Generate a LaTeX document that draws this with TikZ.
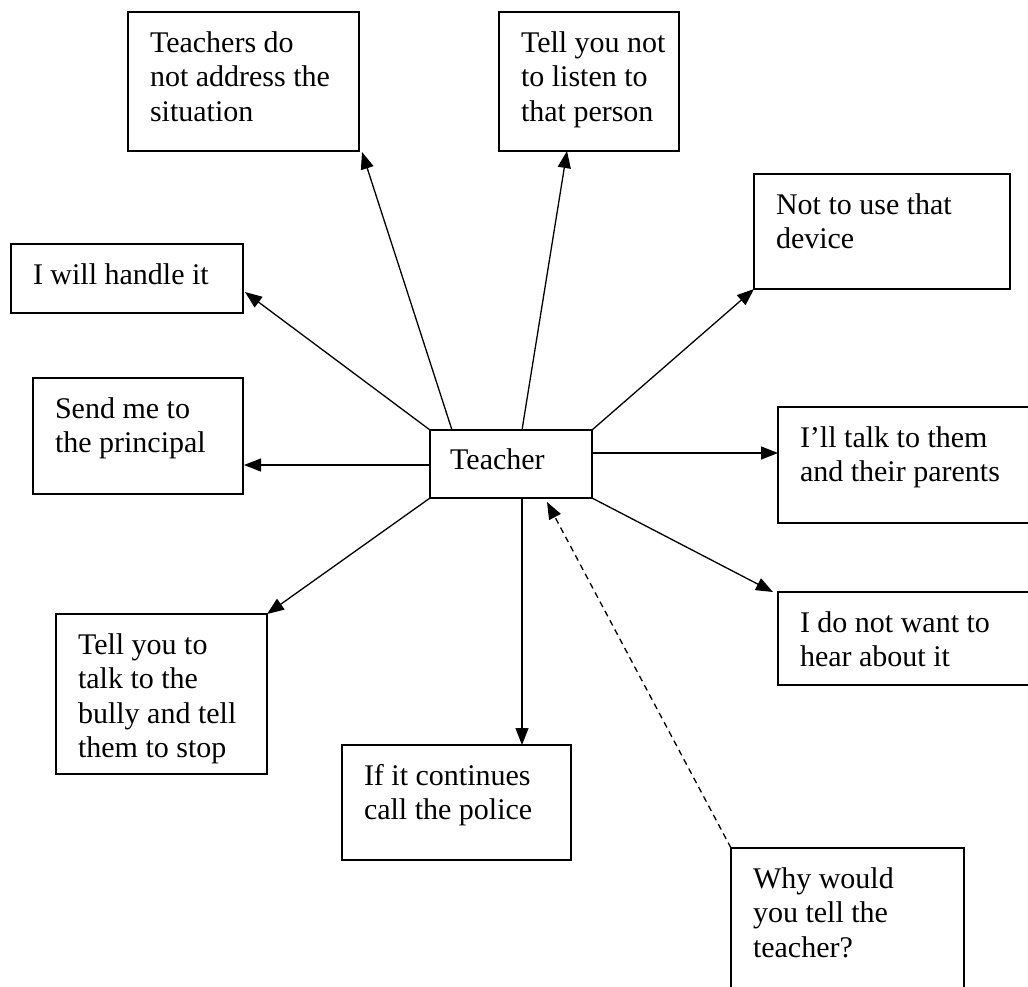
\documentclass[tikz,border=0pt]{standalone}
\usepackage{fontspec}
\setmainfont{Liberation Serif}
\usetikzlibrary{arrows.meta,calc}
\begin{document}
\begin{tikzpicture}[x=1pt,y=-1pt,
  box/.style={draw, line width=1.5pt, anchor=north west, inner sep=0pt, outer sep=0pt},
  lbl/.style={anchor=north west, inner sep=0pt, outer sep=0pt, align=left,
    font=\fontsize{30}{34.5}\selectfont, shift={(22pt,-15.85pt)}},
  arr/.style={line width=1.3pt, -{Triangle[length=17pt,width=13pt]}},
  darr/.style={arr, dash pattern=on 6pt off 4.5pt}]
\useasboundingbox (0,0) rectangle (1028,986);
\fill[white] (0,0) rectangle (1028,986);
\clip (0,0) rectangle (1028,986);

% centre
\node[box, minimum width=162pt, minimum height=68pt] (t) at (430,430) {};
\node[anchor=base west, inner sep=0pt, font=\fontsize{30}{34.5}\selectfont] (tT) at (450,469) {Teacher};

% boxes
\node[box, minimum width=231pt, minimum height=139pt] (a) at (128,12) {};
\node[lbl] (aT) at (a.north west) {\strut Teachers do\\not address the\\situation};

\node[box, minimum width=180pt, minimum height=139pt] (b) at (499,12) {};
\node[lbl] (bT) at (b.north west) {\strut Tell you not\\to listen to\\that person};

\node[box, minimum width=232pt, minimum height=69pt] (c) at (11,244) {};
\node[lbl] (cT) at (c.north west) {\strut I will handle it};

\node[box, minimum width=256pt, minimum height=115pt] (d) at (754,174) {};
\node[lbl] (dT) at (d.north west) {\strut Not to use that\\device};

\node[box, minimum width=210pt, minimum height=116pt] (e) at (33,378) {};
\node[lbl] (eT) at (e.north west) {\strut Send me to\\the principal};

\node[box, minimum width=270pt, minimum height=116pt] (f) at (778,407) {};
\node[lbl] (fT) at (f.north west) {\strut I’ll talk to them\\and their parents};

\node[box, minimum width=270pt, minimum height=93pt] (g) at (778,592) {};
\node[lbl] (gT) at (g.north west) {\strut I do not want to\\hear about it};

\node[box, minimum width=211pt, minimum height=160pt] (h) at (56,614) {};
\node[lbl] (hT) at (h.north west) {\strut Tell you to\\talk to the\\bully and tell\\them to stop};

\node[box, minimum width=229pt, minimum height=115pt] (i) at (342,745) {};
\node[lbl] (iT) at (i.north west) {\strut If it continues\\call the police};

\node[box, minimum width=233pt, minimum height=180pt] (j) at (731,848) {};
\node[lbl] (jT) at (j.north west) {\strut Why would\\you tell the\\teacher?};

% connectors
\draw[arr] ($(t.north west)+(22,0)$) -- ($(a.south east)+(3,1)$);
\draw[arr] ($(t.north west)+(92,0)$) -- ($(b.south west)+(68,0)$);
\draw[arr] (t.north west) -- ($(c.south east)+(2,-21)$);
\draw[arr] (t.north east) -- (d.south west);
\draw[arr] ($(t.north west)+(0,35)$) -- ($(e.north east)+(1,87)$);
\draw[arr] ($(t.north east)+(0,23)$) -- ($(f.north west)+(0,46)$);
\draw[arr] (t.south east) -- ($(g.north west)+(-5,0)$);
\draw[arr] (t.south west) -- (h.north east);
\draw[arr] ($(t.south west)+(92,0)$) -- (i.north -| {$(t.south west)+(92,0)$});
\draw[darr] (j.north west) -- ($(t.south west)+(117,4)$);
\end{tikzpicture}
\end{document}
